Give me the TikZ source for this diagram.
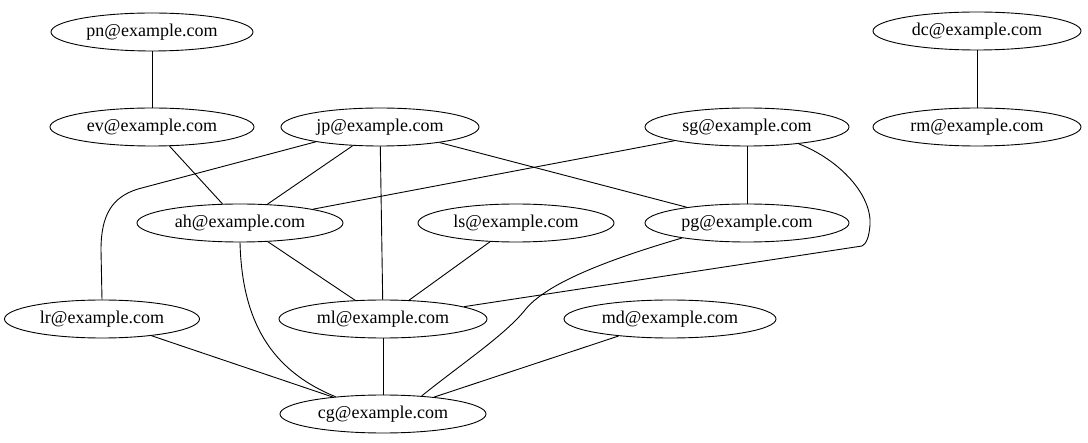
\documentclass[tikz,border=0pt]{standalone}
\usepackage{fontspec}
\setmainfont{Liberation Serif}
\usetikzlibrary{shapes.geometric}
\begin{document}
\begin{tikzpicture}[x=1pt,y=-1pt,
  em/.style={draw,ellipse,inner sep=0pt,minimum height=38pt,line width=0.9pt,font=\fontsize{18}{20}\selectfont},
  edge/.style={line width=0.9pt}]
\useasboundingbox (0,0) rectangle (1088,443);
\node[em,minimum width=202pt] (pn) at (152,32) {pn@example.com};
\node[em,minimum width=204pt] (ev) at (152,127) {ev@example.com};
\node[em,minimum width=198pt] (jp) at (380,127) {jp@example.com};
\node[em,minimum width=204pt] (sg) at (747,127) {sg@example.com};
\node[em,minimum width=208pt] (dc) at (977,31) {dc@example.com};
\node[em,minimum width=208pt] (rm) at (977,127) {rm@example.com};
\node[em,minimum width=206pt] (ah) at (240,223) {ah@example.com};
\node[em,minimum width=196pt] (ls) at (516,223) {ls@example.com};
\node[em,minimum width=204pt] (pg) at (747,223) {pg@example.com};
\node[em,minimum width=195pt] (lr) at (102,319) {lr@example.com};
\node[em,minimum width=208pt] (ml) at (383,319) {ml@example.com};
\node[em,minimum width=212pt] (md) at (670,319) {md@example.com};
\node[em,minimum width=206pt] (cg) at (383,414) {cg@example.com};
\draw[edge] (pn) -- (ev);
\draw[edge] (dc) -- (rm);
\draw[edge] (ev) -- (ah);
\draw[edge] (jp) -- (ah);
\draw[edge] (jp) -- (ml);
\draw[edge] (jp) -- (pg);
\draw[edge] (sg) -- (ah);
\draw[edge] (sg) -- (pg);
\draw[edge] (ah) -- (ml);
\draw[edge] (ls) -- (ml);
\draw[edge] (lr) -- (cg);
\draw[edge] (ml) -- (cg);
\draw[edge] (md) -- (cg);
\draw[edge] (jp.193) -- (138,189) .. controls (112,197) and (101,215) .. (101,250) -- (lr.north);
\draw[edge] (sg.-18) .. controls (840,160) and (872,195) .. (870,225) .. controls (869,238) and (866,244) .. (862,246) -- (ml);
\draw[edge] (ah.south) .. controls (242,320) and (270,370) .. (cg.160);
\draw[edge] (pg.193) .. controls (600,262) and (545,285) .. (525,310) .. controls (505,335) and (460,365) .. (cg.25);
\end{tikzpicture}
\end{document}
